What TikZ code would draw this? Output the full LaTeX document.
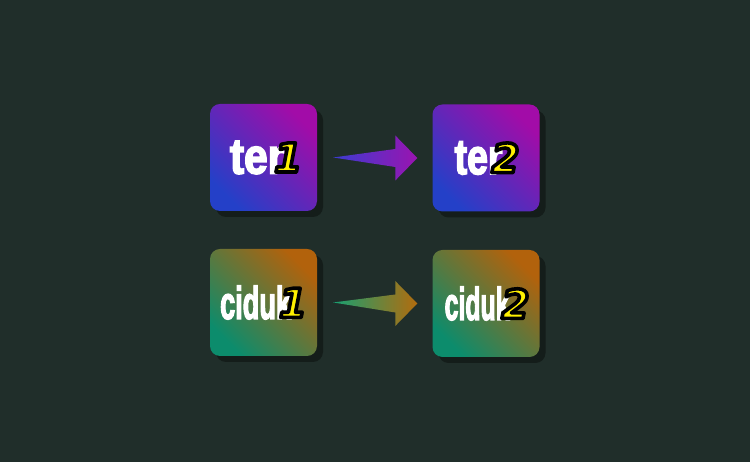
\documentclass[tikz,border=0pt]{standalone}
\usepackage{fontspec}
\usepackage{graphicx}
\usetikzlibrary{calc,shadows}
\newfontfamily\wordfont[FakeBold=3.5]{Liberation Sans}
\newfontfamily\digitfont{DejaVu Sans}
\definecolor{bgcol}{HTML}{202E2A}
\definecolor{shadowcol}{HTML}{141D1A}
\definecolor{purpA}{HTML}{2440C8}
\definecolor{purpB}{HTML}{A20CA8}
\definecolor{warmA}{HTML}{0C8C6C}
\definecolor{warmB}{HTML}{B2620C}
\definecolor{arrPA}{HTML}{3C3CD0}
\definecolor{arrPB}{HTML}{9A14B0}
\definecolor{arrWA}{HTML}{18A072}
\definecolor{arrWB}{HTML}{B26C0E}
\definecolor{digitcol}{HTML}{FFF000}
\newcommand{\outlinedigit}[1]{\raisebox{1.5pt}{\digitfont\bfseries\itshape\fontsize{40}{40}\selectfont\color{digitcol}\special{pdf:literal direct 0 0 0 RG 3.6 w 1 j 2 Tr}#1\special{pdf:literal direct 0 Tr}}}
\newcommand{\boxlabel}[5]{{\wordfont\bfseries\fontsize{#1}{#1}\selectfont\color{white}\scalebox{#2}[1]{#3}}\kern#4pt\outlinedigit{#5}}
\tikzset{
  tile/.style={rectangle, rounded corners=10pt, minimum size=107pt, inner sep=0pt,
    drop shadow={shadow xshift=6pt, shadow yshift=-6pt, fill=shadowcol, opacity=1}},
  purpletile/.style={tile, shade, shading=axis, top color=purpB, bottom color=purpA, shading angle=-45},
  warmtile/.style={tile, shade, shading=axis, top color=warmB, bottom color=warmA, shading angle=-45},
  purplearrow/.style={shade, shading=axis, left color=arrPA, right color=arrPB},
  warmarrow/.style={shade, shading=axis, left color=arrWA, right color=arrWB},
}
\begin{document}
\begin{tikzpicture}[x=1pt,y=1pt]
\fill[bgcol] (0,0) rectangle (750,462);
\useasboundingbox (0,0) rectangle (750,462);
\node[purpletile] (ter1) at (263.5,304.5) {\hspace{5pt}\boxlabel{50}{0.85}{ter}{-10}{1}};
\node[purpletile] (ter2) at (486,304) {\hspace{2pt}\boxlabel{50}{0.75}{ter}{-11}{2}};
\node[warmtile] (ciduk1) at (263.5,159.5) {\boxlabel{46}{0.59}{ciduk}{-12}{1}};
\node[warmtile] (ciduk2) at (486,158.5) {\hspace{2pt}\boxlabel{46}{0.54}{ciduk}{-8}{2}};
% arrows
\path[purplearrow] ($(ter1.east)+(16,0)$) -- ($(ter2.west)+(-37,9)$) -- ($(ter2.west)+(-37,22.5)$)
  -- ($(ter2.west)+(-15,0)$) -- ($(ter2.west)+(-37,-22.5)$) -- ($(ter2.west)+(-37,-9)$) -- cycle;
\path[warmarrow] ($(ciduk1.east)+(16,0)$) -- ($(ciduk2.west)+(-37,9)$) -- ($(ciduk2.west)+(-37,22.5)$)
  -- ($(ciduk2.west)+(-15,0)$) -- ($(ciduk2.west)+(-37,-22.5)$) -- ($(ciduk2.west)+(-37,-9)$) -- cycle;
\end{tikzpicture}
\end{document}
